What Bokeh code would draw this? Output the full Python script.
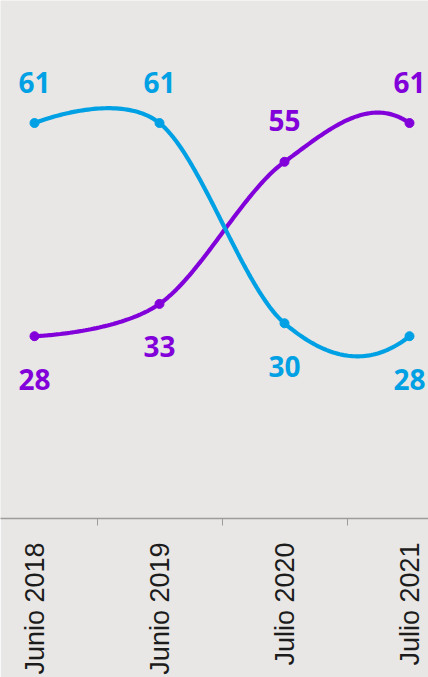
import numpy as np
from bokeh.plotting import figure
from bokeh.models import FixedTicker, Range1d, ColumnDataSource
from bokeh.core.properties import value
from bokeh.embed import file_html
from bokeh.resources import INLINE

# ---- data ----
categories = ["Junio 2018", "Junio 2019", "Julio 2020", "Julio 2021"]
blue_values = [61, 61, 30, 28]
purple_values = [28, 33, 55, 61]
blue_label_side = ["above", "above", "below", "below"]
purple_label_side = ["below", "below", "above", "above"]

BLUE = "#00a1e4"
PURPLE = "#8200d9"
BG = "#e8e7e5"
AXIS = "#9c9c9c"


def smooth(vals, n=60):
    """Cardinal (Catmull-Rom, k=1/6) bezier through the points."""
    xs = np.arange(len(vals), dtype=float)
    ys = np.asarray(vals, dtype=float)
    N = len(vals)
    P = np.column_stack([xs, ys])
    out = [P[0]]
    t = np.linspace(0, 1, n)[1:, None]
    for i in range(N - 1):
        p1, p2 = P[i], P[i + 1]
        if i == 0:
            c1 = p1.copy()
        else:
            c1 = p1 + (p2 - P[i - 1]) / 6.0
        if i + 2 < N:
            p3 = P[i + 2]
        else:
            p3 = np.array([xs[-1] + 1.0, ys[0]])
        c2 = p2 - (p3 - p1) / 6.0
        b = ((1 - t) ** 3) * p1 + 3 * ((1 - t) ** 2) * t * c1 + 3 * (1 - t) * (t ** 2) * c2 + (t ** 3) * p2
        out.extend(list(b))
    out = np.array(out)
    return out[:, 0], out[:, 1]


x_idx = list(range(len(categories)))

p = figure(width=428, height=677, output_backend="svg", toolbar_location=None,
           x_range=Range1d(-0.272, 3.152), y_range=Range1d(-0.22, 79.97),
           y_axis_location=None,
           min_border_left=0, min_border_right=0, min_border_top=0, min_border_bottom=157,
           background_fill_color=BG, border_fill_color=BG, outline_line_color=None)
p.grid.visible = False

ax = p.xaxis[0]
ax.ticker = FixedTicker(ticks=x_idx, minor_ticks=[0.5, 1.5, 2.5])
ax.major_label_overrides = {i: c for i, c in zip(x_idx, categories)}
ax.major_label_orientation = np.pi / 2
ax.major_tick_line_color = None
ax.major_tick_out = 6
ax.major_tick_in = 0
ax.minor_tick_out = 7
ax.minor_tick_in = 0
ax.minor_tick_line_color = AXIS
ax.minor_tick_line_width = 1
ax.axis_line_color = AXIS
ax.axis_line_width = 1.5
ax.major_label_standoff = 17
ax.major_label_text_font = "Liberation Sans"
ax.major_label_text_font_size = "27px"
ax.major_label_text_color = "#1c1c1c"

for vals, color, sides in [(purple_values, PURPLE, purple_label_side),
                           (blue_values, BLUE, blue_label_side)]:
    sx, sy = smooth(vals)
    p.line(sx, sy, line_width=4.2, color=color)
    p.scatter(x_idx, vals, size=9, color=color)

for vals, color, sides in [(purple_values, PURPLE, purple_label_side),
                           (blue_values, BLUE, blue_label_side)]:
    src = ColumnDataSource(dict(
        x=x_idx, y=vals, t=[str(v) for v in vals],
        off=[-41 if s == "above" else 43 for s in sides]))
    p.text(x="x", y="y", text="t", source=src, y_offset="off",
           text_align="center", text_baseline="middle",
           text_font=value("Open Sans"), text_font_style="bold",
           text_font_size="28px", text_color=color)

open("out.html", "w").write(file_html(p, INLINE))
